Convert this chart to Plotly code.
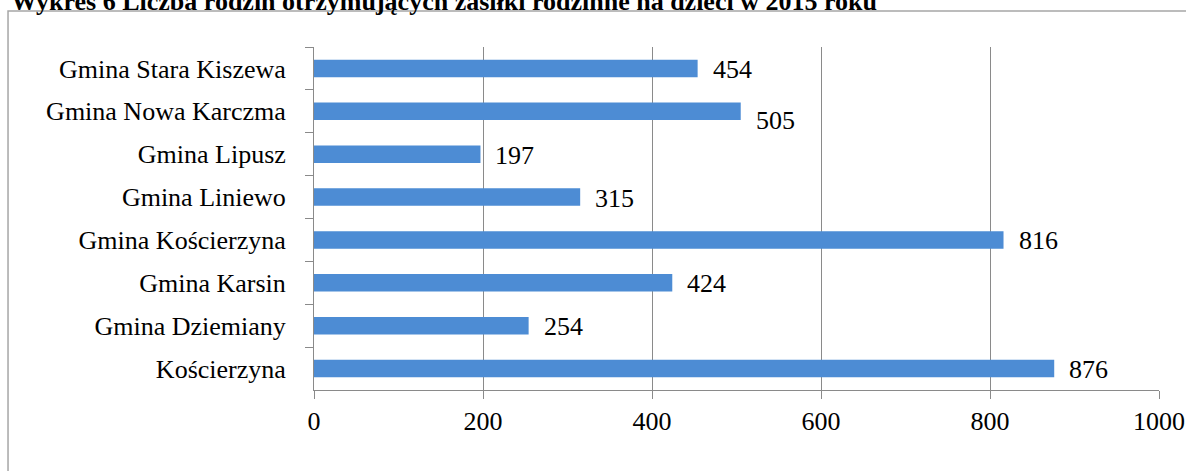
import plotly.graph_objects as go

# categories listed top to bottom, as in the picture
gminy = [
    "Gmina Stara Kiszewa",
    "Gmina Nowa Karczma",
    "Gmina Lipusz",
    "Gmina Liniewo",
    "Gmina Kościerzyna",
    "Gmina Karsin",
    "Gmina Dziemiany",
    "Kościerzyna",
]
rodziny = [454, 505, 197, 315, 816, 424, 254, 876]
x_ticks = [0, 200, 400, 600, 800, 1000]

title_text = "Wykres 6 Liczba rodzin otrzymujących zasiłki rodzinne na dzieci w 2015 roku"

font_family = "Liberation Serif, Times New Roman, serif"
bar_color = "rgb(77,140,212)"
grid_color = "#8a8a8a"

fig = go.Figure()

fig.add_trace(go.Bar(
    x=rodziny,
    y=gminy,
    orientation="h",
    width=0.41,
    marker=dict(color=bar_color, line=dict(width=0)),
    hoverinfo="x+y",
))

# value labels to the right of each bar
for g, v in zip(gminy, rodziny):
    fig.add_annotation(
        x=v, y=g, xref="x", yref="y",
        text=str(v), showarrow=False,
        xanchor="left", xshift=13,
        yshift=-9 if g == "Gmina Nowa Karczma" else -1,
        font=dict(family=font_family, size=26, color="black"),
    )

# title (cut off at the top edge, like in the source)
fig.add_annotation(
    x=-0.3609, y=1.0846, xref="paper", yref="paper",
    text="<b>" + title_text + "</b>", showarrow=False,
    xanchor="left", yanchor="bottom",
    font=dict(family=font_family, size=26, color="black"),
)

# chart frame
fig.add_shape(
    type="rect", xref="paper", yref="paper",
    x0=-0.3621, x1=1.05, y0=-0.3, y1=1.105,
    line=dict(color="#a6a6a6", width=1.5),
    fillcolor="rgba(0,0,0,0)",
    layer="below",
)

fig.update_layout(
    width=1186,
    height=471,
    autosize=False,
    margin=dict(l=314, r=27, t=47, b=81),
    paper_bgcolor="white",
    plot_bgcolor="white",
    showlegend=False,
    font=dict(family=font_family, size=26, color="black"),
    xaxis=dict(
        range=[0, 1000],
        tickvals=x_ticks,
        automargin=False,
        showgrid=True,
        gridcolor=grid_color,
        gridwidth=1,
        zeroline=False,
        showline=True,
        linecolor=grid_color,
        ticks="outside",
        ticklen=8,
        tickcolor=grid_color,
        tickfont=dict(size=26),
        fixedrange=True,
    ),
    yaxis=dict(
        autorange="reversed",
        automargin=False,
        showgrid=False,
        showline=True,
        linecolor=grid_color,
        ticks="outside",
        tickson="boundaries",
        ticklen=8,
        tickcolor=grid_color,
        ticklabelstandoff=22,
        tickfont=dict(size=26),
        fixedrange=True,
    ),
)

# the page's default body margin would push the chart 8px right and down
fig.write_html(
    "out.html",
    config={"displayModeBar": False, "responsive": False},
    post_script="document.body.style.margin = '0px'; document.body.style.overflow = 'hidden';",
)
